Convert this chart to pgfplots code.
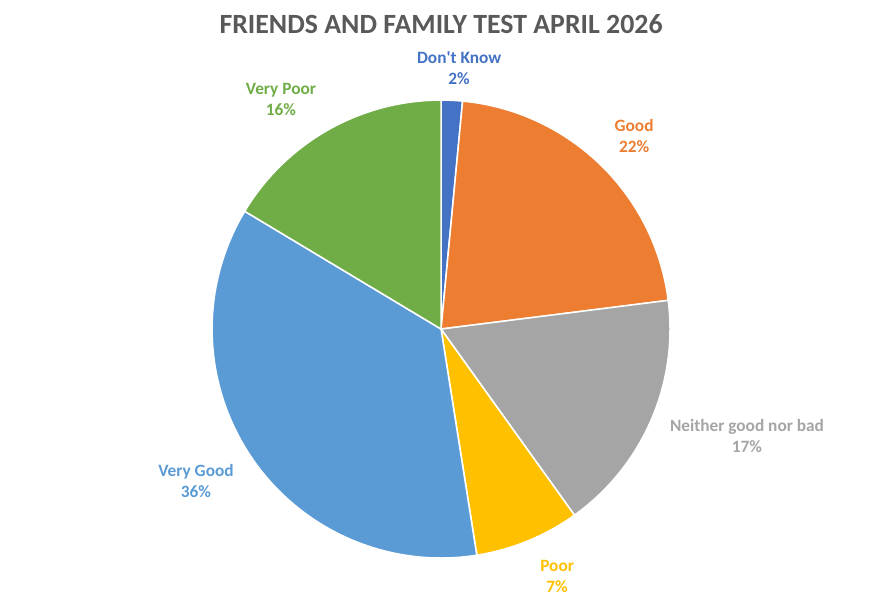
\documentclass[border=0pt]{standalone}
\usepackage{pgfplots}
\usepackage{pgfplotstable}
\usepackage{fontspec}
\setmainfont{Carlito}
\pgfplotsset{compat=1.18}

\definecolor{dk}{HTML}{4472C4}
\definecolor{gd}{HTML}{ED7D31}
\definecolor{nb}{HTML}{A5A5A5}
\definecolor{pr}{HTML}{FFC000}
\definecolor{vg}{HTML}{5B9BD5}
\definecolor{vp}{HTML}{70AD47}
\definecolor{ttl}{HTML}{595959}

% share of answers, in per cent, clockwise from 12 o'clock
\pgfplotstableread[col sep=comma]{
label,value,color
Don't Know,1.5,dk
Good,21.5,gd
Neither good nor bad,17.1,nb
Poor,7.4,pr
Very Good,36.1,vg
Very Poor,16.4,vp
}\piedata

% start and end angle of each slice
\def\curang{90}
\pgfplotsforeachungrouped \i in {0,...,5}{%
  \pgfplotstablegetelem{\i}{value}\of\piedata
  \pgfmathsetmacro\nextang{\curang-3.6*\pgfplotsretval}%
  \expandafter\xdef\csname sa\i\endcsname{\curang}%
  \expandafter\xdef\csname ea\i\endcsname{\nextang}%
  \xdef\curang{\nextang}%
}

\begin{document}
\begin{tikzpicture}
\begin{axis}[
    width=22.075cm, height=15.325cm,
    scale only axis,
    hide axis,
    clip=false,
    xmin=-1.926, xmax=1.930,
    ymin=-1.240, ymax=1.437,
    ]
\path (rel axis cs:0,0) rectangle (rel axis cs:1,1);
\pgfplotsinvokeforeach{0,...,5}{%
  \pgfplotstablegetelem{#1}{color}\of\piedata
  \edef\tmp{\noexpand\addplot[fill=\pgfplotsretval, draw=white, line width=1.1pt,
    line join=round, domain=\csname ea#1\endcsname:\csname sa#1\endcsname,
    samples=90, variable=\noexpand\t]
    ({cos(\noexpand\t)},{sin(\noexpand\t)}) -- (axis cs:0,0) -- cycle;}%
  \tmp
}
\node[text=ttl, font=\fontsize{19.8}{22}\selectfont\bfseries] at (axis cs:0,1.332)
  {FRIENDS AND FAMILY TEST APRIL 2026};
\tikzset{lbl/.style={align=center, font=\fontsize{12.3}{14.9}\selectfont\bfseries}}
\node[lbl, text=dk] at (axis cs:0.079,1.140) {Don\textquotesingle t Know\\2\%};
\node[lbl, text=gd] at (axis cs:0.843,0.843) {Good\\22\%};
\node[lbl, text=nb] at (axis cs:1.336,-0.467) {Neither good nor bad\\17\%};
\node[lbl, text=pr] at (axis cs:0.507,-1.079) {Poor\\7\%};
\node[lbl, text=vg] at (axis cs:-1.070,-0.664) {Very Good\\36\%};
\node[lbl, text=vp] at (axis cs:-0.699,1.004) {Very Poor\\16\%};
\end{axis}
\end{tikzpicture}
\end{document}
